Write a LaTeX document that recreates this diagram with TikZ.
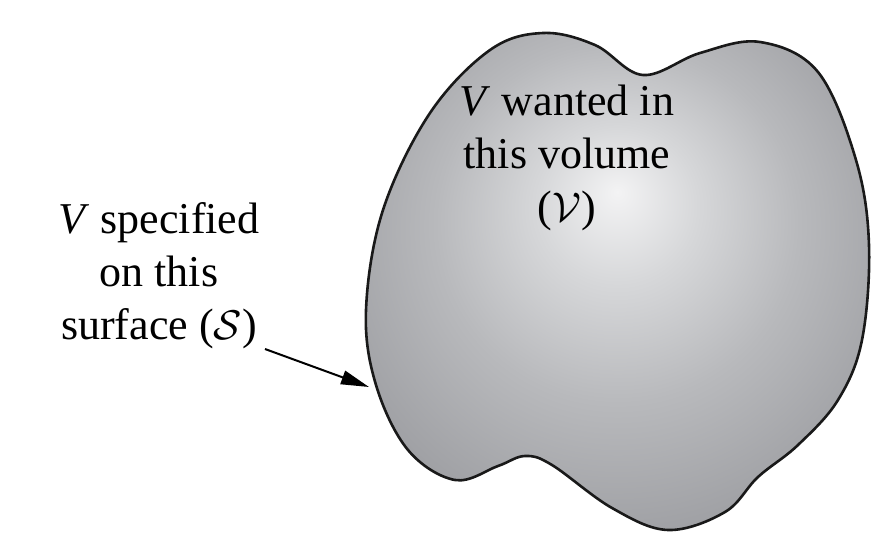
\documentclass[tikz,border=0pt]{standalone}
\usepackage{fontspec}
\setmainfont{Liberation Serif}
\usetikzlibrary{arrows.meta}

\definecolor{blobhi}{RGB}{243,243,244}
\definecolor{blobmid}{RGB}{214,215,217}
\definecolor{bloblow}{RGB}{184,185,188}
\definecolor{blobedge}{RGB}{158,159,163}
\pgfdeclareradialshading{blobshade}{\pgfpoint{0bp}{9bp}}{%
  color(0bp)=(blobhi); color(8bp)=(blobmid); color(18bp)=(bloblow);
  color(30bp)=(blobedge); color(50bp)=(blobedge)}

\begin{document}
\begin{tikzpicture}[
  x=0.5pt, y=-0.5pt,
  >={Triangle[length=14pt,width=7pt]},
  every node/.style={font=\fontsize{22}{26.5}\selectfont,align=center,inner sep=0pt},
  blob/.style={draw=black!90,line width=1.3pt,shading=blobshade},
  pointer/.style={->,line width=1pt}
]
  \useasboundingbox (0,0) rectangle (885,542);
  % the region and its bounding surface
  \path[blob] plot[smooth cycle,tension=0.6] coordinates {
    (366,310) (383,210) (430,113) (490,50) (543,33) (595,45) (643,75)
    (700,53) (760,42) (818,72) (856,160) (869,245) (862,340) (838,400)
    (798,445) (758,477) (725,512) (668,530) (612,508) (552,465) (525,456)
    (498,466) (455,480) (408,450) (376,385)};
  \node (volume) at (567,158) {\textit{V} wanted in\\this volume\\($\mathcal{V}$)};
  \node (surface) at (159,276) {\textit{V} specified\\on this\\surface ($\mathcal{S}$)};
  \coordinate (tail) at (265,349);
  \coordinate (edge) at (369,387);
  \draw[pointer] (tail) -- (edge);
\end{tikzpicture}
\end{document}
